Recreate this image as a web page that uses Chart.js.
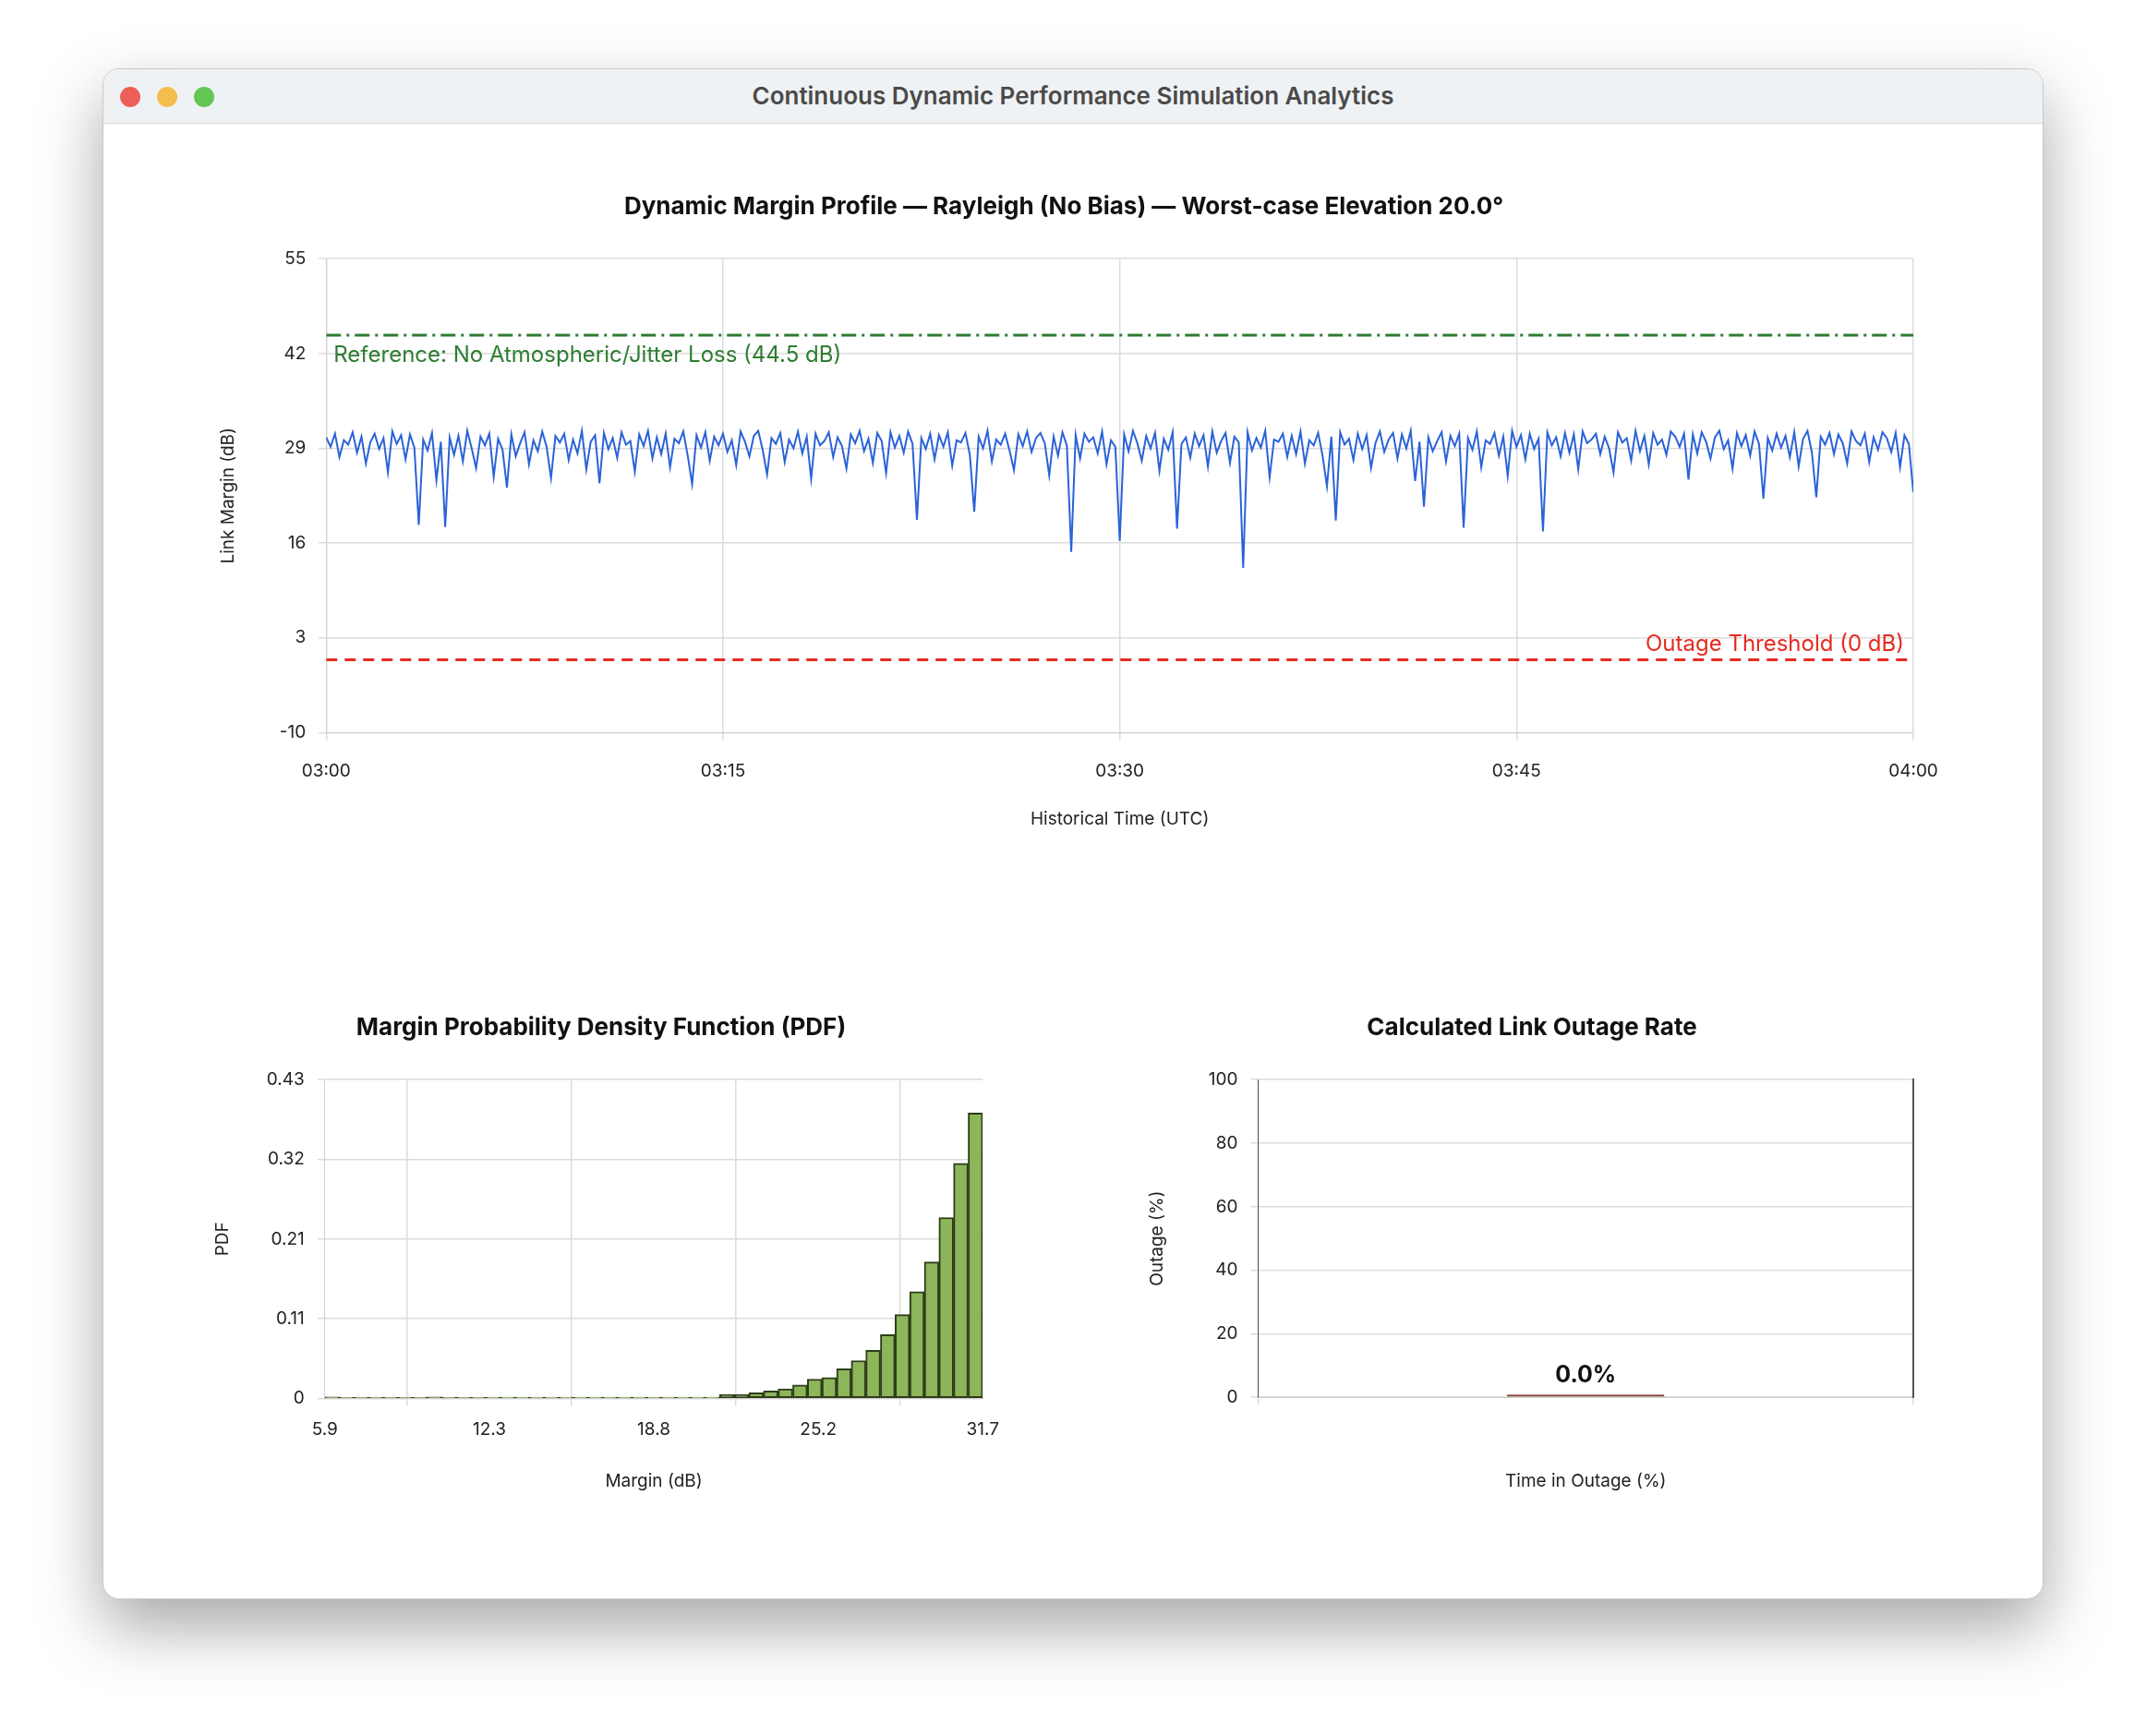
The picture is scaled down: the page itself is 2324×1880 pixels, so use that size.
<!DOCTYPE html>
<html><head><meta charset="utf-8">
<script src="https://cdn.jsdelivr.net/npm/chart.js@4.4.1/dist/chart.umd.min.js"></script>
<style>
body{margin:0;width:2324px;height:1880px;background:#fff;font-family:Inter,"Liberation Sans",sans-serif;position:relative;overflow:hidden}
#win{position:absolute;left:111px;top:74px;width:2100px;height:1656px;border-radius:18px;background:#fff;box-shadow:0 30px 70px rgba(0,0,0,0.35);border:1px solid #c8c8c8;overflow:hidden}
#bar{height:58px;background:#eff2f4;border-bottom:1px solid #d9d9d9;position:relative;text-align:center;line-height:58px;font-size:26px;font-weight:600;color:#4a4a4a}
.dot{position:absolute;top:19px;width:22px;height:22px;border-radius:50%}
.c{position:absolute}
</style></head><body>
<div id="win">
<div id="bar"><span class="dot" style="left:18px;background:#ec5f58"></span><span class="dot" style="left:58px;background:#f4be4f"></span><span class="dot" style="left:98px;background:#62c654"></span>Continuous Dynamic Performance Simulation Analytics</div>
<div class="c" style="left:100px;top:124px;width:1990px;height:714px"><canvas id="c1"></canvas></div>
<div class="c" style="left:94px;top:938px;width:890px;height:617px"><canvas id="c2"></canvas></div>
<div class="c" style="left:1106px;top:938px;width:880px;height:617px"><canvas id="c3"></canvas></div>
</div>
<script>
const timeTickLabels=['03:00','03:15','03:30','03:45','04:00'];
const marginDb=[
30.5,29.2,31.0,27.8,30.1,29.5, 31.2,28.4,30.6,26.9,29.8,31.0, 28.9,30.4,25.7,31.3,29.6,30.8, 27.5,30.9,29.1,18.5,30.2,28.7,
31.1,24.6,29.9,18.2,30.5,28.1, 30.7,27.2,31.4,29.0,26.3,30.6, 29.4,31.0,25.1,30.3,28.8,23.6, 30.9,27.9,29.7,31.2,26.8,30.1,
28.6,31.3,29.2,24.9,30.7,29.8, 31.0,27.4,30.2,28.3,31.4,26.1, 29.9,30.8,24.2,31.1,28.9,30.4, 27.7,31.2,29.5,30.0,25.8,30.9,
29.3,31.4,27.6,30.5,28.2,31.0, 26.4,30.3,29.7,31.3,28.0,24.1, 30.8,29.1,31.2,27.3,30.6,29.4, 31.0,28.5,30.1,26.7,31.3,29.9,
27.9,30.7,31.4,28.8,25.4,30.4, 29.6,31.1,27.1,30.2,29.0,31.3, 28.3,30.6,24.8,31.0,29.4,30.0, 31.2,27.8,30.5,29.3,26.2,30.9,
29.7,31.4,28.6,30.3,27.0,31.1, 30.0,25.6,31.2,29.1,30.7,28.4, 31.3,29.6,19.2,30.4,28.9,31.0, 27.5,30.8,29.2,31.2,26.6,30.1,
29.8,31.1,28.1,20.3,30.6,29.0, 31.4,27.2,30.2,29.5,31.0,28.7, 26.0,30.9,29.3,31.3,28.5,30.4, 31.1,29.7,25.3,30.6,28.0,31.2,
29.4,14.8,30.8,27.6,31.0,29.9, 30.5,28.3,31.3,26.8,30.1,29.2, 16.3,30.9,28.6,31.4,29.7,27.3, 30.7,29.0,31.1,25.9,30.3,28.8,
31.2,18.0,29.6,30.5,27.7,31.0, 29.3,30.8,26.5,31.3,28.4,30.0, 31.1,27.0,30.6,29.8,12.6,31.2, 28.7,30.4,29.1,31.4,25.0,30.2,
29.9,31.0,27.8,30.7,28.2,31.3, 26.9,30.1,29.4,31.1,28.0,23.8, 30.6,19.1,31.2,29.5,30.3,27.4, 31.0,28.9,30.8,26.3,29.7,31.3,
28.5,30.2,31.1,27.6,30.9,29.0, 31.4,24.5,29.9,21.0,30.5,28.6, 30.0,31.2,27.2,30.7,29.3,31.0, 18.1,30.4,28.8,31.3,26.4,30.1,
29.6,31.1,28.0,30.6,25.2,31.4, 29.2,30.8,27.5,31.0,28.9,30.3, 17.6,31.2,29.4,30.5,27.9,31.1, 28.4,30.9,26.1,31.3,29.7,30.2,
31.0,28.2,30.6,29.0,25.7,31.2, 29.8,30.4,27.3,31.4,28.6,30.7, 26.8,31.1,29.5,30.2,28.1,31.3, 30.6,29.2,31.0,24.7,30.9,28.3,
31.2,29.9,27.6,30.5,31.4,28.9, 30.1,26.2,31.1,29.3,30.8,28.0, 31.3,29.6,22.1,30.4,28.7,31.0, 29.1,30.7,27.8,31.2,26.5,30.3,
31.4,28.4,22.3,30.6,29.5,31.1, 28.2,30.9,29.7,26.9,31.3,30.0, 29.4,31.0,27.1,30.5,28.8,31.2, 30.4,28.5,31.1,26.4,30.8,29.6,
23.0];
const referenceDb=44.5, thresholdDb=0;
const pdfTickLabels=['5.9','12.3','18.8','25.2','31.7'];
const pdfYTickLabels=['0','0.11','0.21','0.32','0.43'];
const pdfValues=[0.002,0.0012,0.0012,0.0012,0.0012,0.0012,0.0012,0.002,0.0012,0.0012,0.0012,0.0015,0.0015,0.0015,0.0015,0.0015,0.0015,0.0015,0.0015,0.0015,0.0015,0.0015,0.0015,0.0015,0.0015,0.0015,0.0015,
0.005,0.005,0.0076,0.010,0.013,0.018,0.026,0.028,0.040,0.051,0.065,0.086,0.113,0.144,0.184,0.244,0.317,0.385];
const outageCategories=['Outage'];
const outageValues=[0.0];

const F='Inter,"Liberation Sans",sans-serif';
const tickFont={family:F,size:19},titleFont={family:F,size:19};
const grid={color:'#dcdcdc',lineWidth:1.5};

const lineData=marginDb.map((v,i)=>({x:i/6,y:v}));
const labelPlugin={id:'lbl',afterDatasetsDraw(ch){const {ctx,scales:{x,y}}=ch;ctx.save();ctx.font='24px '+F;
 ctx.fillStyle='#2e7d32';ctx.textAlign='left';ctx.textBaseline='middle';ctx.fillText('Reference: No Atmospheric/Jitter Loss (44.5 dB)',x.left+8,y.getPixelForValue(referenceDb)+22);
 ctx.fillStyle='#e52b20';ctx.textAlign='right';ctx.fillText('Outage Threshold (0 dB)',x.right-10,y.getPixelForValue(thresholdDb)-17);ctx.restore();}};
new Chart(document.getElementById('c1'),{type:'line',
 data:{datasets:[
  {data:lineData,borderColor:'#2a62d8',borderWidth:2,pointRadius:0,tension:0},
  {data:[{x:0,y:referenceDb},{x:60,y:referenceDb}],borderColor:'#2e7d32',borderWidth:3,borderDash:[16,6,3,6],pointRadius:0},
  {data:[{x:0,y:thresholdDb},{x:60,y:thresholdDb}],borderColor:'#e52b20',borderWidth:3,borderDash:[12,8],pointRadius:0}]},
 options:{responsive:true,maintainAspectRatio:false,animation:false,layout:{padding:{left:20,right:130,top:0,bottom:10}},
  plugins:{legend:{display:false},tooltip:{enabled:false},title:{display:true,text:'Dynamic Margin Profile — Rayleigh (No Bias) — Worst-case Elevation 20.0°',font:{family:F,size:26,weight:'bold'},color:'#111',padding:{top:10,bottom:40}}},
  scales:{x:{type:'linear',min:0,max:60,afterBuildTicks(a){a.ticks=[0,15,30,45,60].map(v=>({value:v}));},ticks:{font:tickFont,color:'#222',padding:22,callback:(v,i)=>timeTickLabels[i]},grid:grid,border:{color:'#cfcfcf'},title:{display:true,text:'Historical Time (UTC)',font:titleFont,color:'#222',padding:{top:8}}},
   y:{min:-10,max:55,afterBuildTicks(a){a.ticks=[-10,3,16,29,42,55].map(v=>({value:v}));},ticks:{font:tickFont,color:'#222',padding:14},grid:grid,border:{color:'#cfcfcf'},title:{display:true,text:'Link Margin (dB)',font:titleFont,color:'#222',padding:{bottom:30}}}}},
 plugins:[labelPlugin]});

const binW=(31.7-5.9)/pdfValues.length;
new Chart(document.getElementById('c2'),{type:'bar',
 data:{datasets:[{data:pdfValues.map((v,i)=>({x:5.9+binW*(i+0.5),y:v})),backgroundColor:'#8db55a',borderColor:'#2d3d18',borderWidth:2,barPercentage:1,categoryPercentage:1,borderSkipped:false}]},
 options:{responsive:true,maintainAspectRatio:false,animation:false,layout:{padding:{left:20,right:20,top:0,bottom:10}},
  plugins:{legend:{display:false},tooltip:{enabled:false},title:{display:true,text:'Margin Probability Density Function (PDF)',font:{family:F,size:26,weight:'bold'},color:'#111',padding:{top:85,bottom:40}}},
  scales:{x:{type:'linear',offset:false,min:5.9,max:31.7,afterBuildTicks(a){a.ticks=[5.9,12.35,18.8,25.25,31.7].map(v=>({value:v}));},ticks:{font:tickFont,color:'#222',padding:14,callback:(v,i)=>pdfTickLabels[i]},grid:grid,border:{color:'#cfcfcf'},title:{display:true,text:'Margin (dB)',font:titleFont,color:'#222',padding:{top:20}}},
   y:{min:0,max:0.43,afterBuildTicks(a){a.ticks=[0,0.1075,0.215,0.3225,0.43].map(v=>({value:v}));},ticks:{font:tickFont,color:'#222',padding:14,callback:(v,i)=>pdfYTickLabels[i]},grid:grid,border:{color:'#cfcfcf'},title:{display:true,text:'PDF',font:titleFont,color:'#222',padding:{bottom:22}}}}}});

const valPlugin={id:'val',afterDatasetsDraw(ch){const {ctx}=ch;const m=ch.getDatasetMeta(0).data[0];ctx.save();ctx.font='bold 25px '+F;ctx.fillStyle='#111';ctx.textAlign='center';ctx.textBaseline='bottom';ctx.fillText(outageValues[0].toFixed(1)+'%',m.x,m.y-8);ctx.restore();}};
new Chart(document.getElementById('c3'),{type:'bar',
 data:{labels:outageCategories,datasets:[{data:outageValues,backgroundColor:'#6e2410',borderColor:'#6e2410',borderWidth:2,minBarLength:3,barPercentage:0.24,categoryPercentage:1}]},
 options:{responsive:true,maintainAspectRatio:false,animation:false,layout:{padding:{left:20,right:18,top:0,bottom:10}},
  plugins:{legend:{display:false},tooltip:{enabled:false},title:{display:true,text:'Calculated Link Outage Rate',font:{family:F,size:26,weight:'bold'},color:'#111',padding:{top:85,bottom:40}}},
  scales:{x:{ticks:{display:false},grid:grid,border:{color:'#cfcfcf'},title:{display:true,text:'Time in Outage (%)',font:titleFont,color:'#222',padding:{top:72}}},
   y:{min:0,max:100,ticks:{stepSize:20,font:tickFont,color:'#222',padding:14},grid:grid,border:{color:'#555'},title:{display:true,text:'Outage (%)',font:titleFont,color:'#222',padding:{bottom:30}}},
   y2:{position:'right',min:0,max:100,ticks:{display:false},grid:{display:false},border:{color:'#555',width:2}}}},
 plugins:[valPlugin]});
</script></body></html>
